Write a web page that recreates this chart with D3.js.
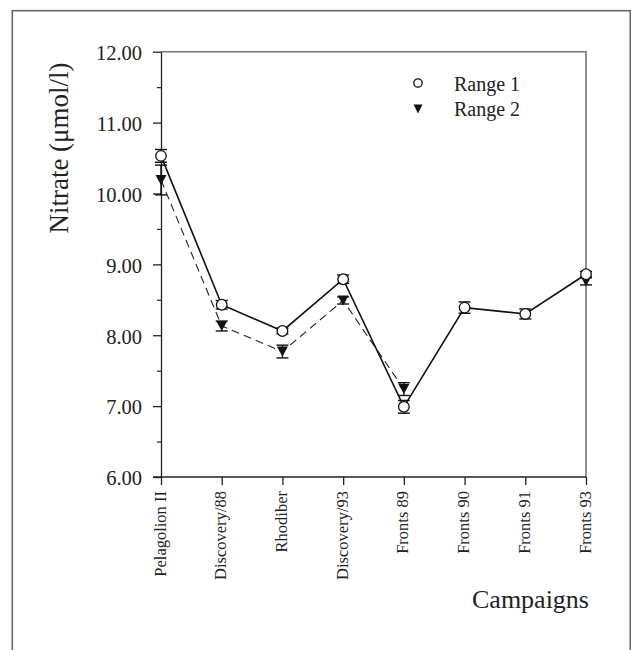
<!DOCTYPE html>
<html>
<head>
<meta charset="utf-8">
<script src="https://cdn.jsdelivr.net/npm/d3@7"></script>
<style>
  html, body { margin: 0; padding: 0; background: #fff; }
  svg { display: block; font-family: "Liberation Serif", "Times New Roman", serif; }
</style>
</head>
<body>
<svg id="chart" width="631" height="650"></svg>
<script>
// Campaign names along the x axis
const campaigns = ["Pelagolion II", "Discovery/88", "Rhodiber", "Discovery/93",
                   "Fronts 89", "Fronts 90", "Fronts 91", "Fronts 93"];

// Mean nitrate (µmol/l) and standard error, range 1
const range1 = [10.53, 8.43, 8.06, 8.79, 6.99, 8.39, 8.30, 8.86];
const range1Err = [0.09, 0.06, 0.04, 0.06, 0.09, 0.08, 0.07, 0.04];

// Mean nitrate (µmol/l) and standard error, range 2 (no samples in Fronts 90/91)
const range2 = [10.19, 8.13, 7.77, 8.49, 7.24, null, null, 8.76];
const range2Err = [0.21, 0.07, 0.09, 0.05, 0.09, null, null, 0.05];

// Y axis ticks
const yMajorTicks = [6, 7, 8, 9, 10, 11, 12];
const yMinorTicks = [6.5, 7.5, 8.5, 9.5, 10.5, 11.5];

const legendLabels = ["Range 1", "Range 2"];
const yTitle = "Nitrate (\u03bcmol/l)";
const xTitle = "Campaigns";

const svg = d3.select("#chart");

const plot = { left: 161, right: 586, top: 51.7, bottom: 477 };

const x = d3.scalePoint().domain(campaigns).range([plot.left, plot.right]);
const y = d3.scaleLinear().domain([6, 12]).range([plot.bottom, plot.top]);

// Outer frame around the figure
svg.append("rect")
  .attr("x", 12.3).attr("y", 10.7)
  .attr("width", 618).attr("height", 660)
  .attr("fill", "none").attr("stroke", "#666").attr("stroke-width", 1.6);

// Top and right edges of the plot box
svg.append("path")
  .attr("d", `M${plot.left},${plot.top}H${plot.right}V${plot.bottom}`)
  .attr("fill", "none").attr("stroke", "#777").attr("stroke-width", 1.6);

// Y axis: major ticks with labels, minor ticks without
const yAxis = svg.append("g")
  .attr("transform", `translate(${plot.left},0)`)
  .call(d3.axisLeft(y).tickValues(yMajorTicks).tickSize(8).tickSizeOuter(0)
    .tickFormat(d3.format(".2f")));
yAxis.select(".domain").attr("stroke", "#222").attr("stroke-width", 1.3);
yAxis.selectAll(".tick line").attr("stroke", "#222").attr("stroke-width", 1.3);
yAxis.selectAll(".tick text")
  .attr("x", -19).attr("dy", "0.38em")
  .style("font-family", "Liberation Serif, serif")
  .style("font-size", "20.5px").attr("fill", "#222");

const yMinor = svg.append("g")
  .attr("transform", `translate(${plot.left},0)`)
  .call(d3.axisLeft(y).tickValues(yMinorTicks).tickSize(4).tickSizeOuter(0)
    .tickFormat(""));
yMinor.select(".domain").remove();
yMinor.selectAll(".tick line").attr("stroke", "#222").attr("stroke-width", 1.2);

// X axis with rotated campaign names
const xAxis = svg.append("g")
  .attr("transform", `translate(0,${plot.bottom})`)
  .call(d3.axisBottom(x).tickSize(8).tickSizeOuter(0));
xAxis.select(".domain").attr("stroke", "#222").attr("stroke-width", 1.3)
  .attr("d", `M${plot.left - 8},0H${plot.right}`);
xAxis.selectAll(".tick line").attr("stroke", "#222").attr("stroke-width", 1.3);
xAxis.selectAll(".tick text")
  .attr("transform", "rotate(-90)")
  .attr("x", -14).attr("y", 4).attr("dy", 0)
  .style("text-anchor", "end")
  .style("font-family", "Liberation Serif, serif")
  .style("font-size", "16.5px").attr("fill", "#222");

// Axis titles
svg.append("text")
  .attr("transform", "translate(68,148) rotate(-90)")
  .attr("text-anchor", "middle")
  .style("font-size", "27px").attr("fill", "#222")
  .text(yTitle);

svg.append("text")
  .attr("x", 589).attr("y", 608)
  .attr("text-anchor", "end")
  .style("font-size", "26px").attr("fill", "#222")
  .text(xTitle);

// Build point records from the series arrays
const pts1 = campaigns.map((c, i) => ({ c, v: range1[i], e: range1Err[i] }));
const pts2 = campaigns.map((c, i) => ({ c, v: range2[i], e: range2Err[i] }));

const line = d3.line()
  .defined(d => d.v != null)
  .x(d => x(d.c)).y(d => y(d.v));

// Range 2: dashed line
svg.append("path").datum(pts2)
  .attr("d", line)
  .attr("fill", "none").attr("stroke", "#222")
  .attr("stroke-width", 1.1).attr("stroke-dasharray", "8,5");

// Range 1: solid line
svg.append("path").datum(pts1)
  .attr("d", line)
  .attr("fill", "none").attr("stroke", "#111").attr("stroke-width", 1.6);

// Error bars with caps
function errorBars(data) {
  const g = svg.append("g").attr("stroke", "#111").attr("stroke-width", 1.4);
  const valid = data.filter(d => d.v != null);
  g.selectAll("line.v").data(valid).join("line")
    .attr("x1", d => x(d.c)).attr("x2", d => x(d.c))
    .attr("y1", d => y(d.v - d.e)).attr("y2", d => y(d.v + d.e));
  g.selectAll("line.t").data(valid).join("line")
    .attr("x1", d => x(d.c) - 6).attr("x2", d => x(d.c) + 6)
    .attr("y1", d => y(d.v + d.e)).attr("y2", d => y(d.v + d.e));
  g.selectAll("line.b").data(valid).join("line")
    .attr("x1", d => x(d.c) - 6).attr("x2", d => x(d.c) + 6)
    .attr("y1", d => y(d.v - d.e)).attr("y2", d => y(d.v - d.e));
}
errorBars(pts2);
errorBars(pts1);

// Down-pointing triangle path centred on (0,0)
function triangle(w, h) {
  return `M${-w / 2},${-h / 2}L${w / 2},${-h / 2}L0,${h / 2}Z`;
}

// Range 2 markers: filled triangles
svg.append("g").selectAll("path")
  .data(pts2.filter(d => d.v != null)).join("path")
  .attr("transform", d => `translate(${x(d.c)},${y(d.v)})`)
  .attr("d", triangle(11, 10))
  .attr("fill", "#111");

// Range 1 markers: open circles
svg.append("g").selectAll("circle")
  .data(pts1).join("circle")
  .attr("cx", d => x(d.c)).attr("cy", d => y(d.v))
  .attr("r", 5.3)
  .attr("fill", "#fff").attr("stroke", "#111").attr("stroke-width", 1.3);

// Legend
const legend = svg.append("g");
legend.append("circle")
  .attr("cx", 418).attr("cy", 83).attr("r", 4.2)
  .attr("fill", "#fff").attr("stroke", "#111").attr("stroke-width", 1.3);
legend.append("path")
  .attr("transform", "translate(418,109)")
  .attr("d", triangle(9, 9)).attr("fill", "#111");
legend.selectAll("text").data(legendLabels).join("text")
  .attr("x", 454).attr("y", (d, i) => 91 + i * 25)
  .style("font-size", "20px").attr("fill", "#222")
  .text(d => d);
</script>
</body>
</html>
